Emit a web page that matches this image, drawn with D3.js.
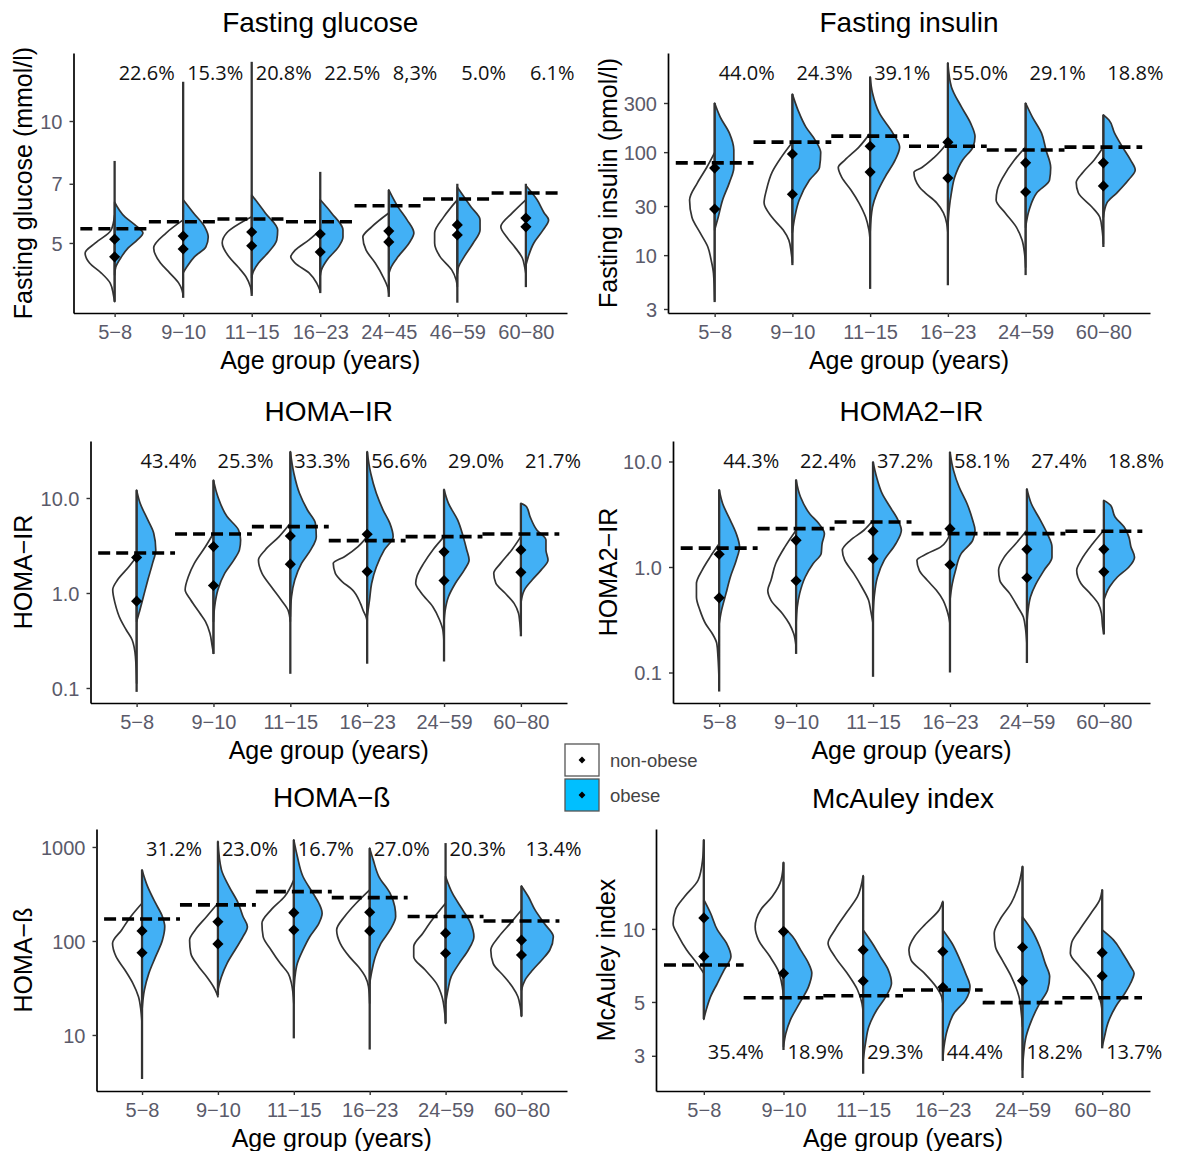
<!DOCTYPE html>
<html><head><meta charset="utf-8">
<script src="https://cdn.jsdelivr.net/npm/d3@7"></script>
<style>body{margin:0;background:#fff}</style>
</head><body><svg id="chart" width="1179" height="1151" xmlns="http://www.w3.org/2000/svg"></svg>
<script>
// ---------- categories ----------
const glucoseGroups = ["5−8","9−10","11−15","16−23","24−45","46−59","60−80"];
const ageGroups = ["5−8","9−10","11−15","16−23","24−59","60−80"];
const legendLabels = ["non-obese","obese"];

// ---------- Fasting glucose ----------
const gluLim = [3.358, 14.72];
const gluTicks = [5, 7, 10];
const gluTickLabels = ["5","7","10"];
const gluPct = ["22.6%","15.3%","20.8%","22.5%","8,3%","5.0%","6.1%"];
const gluRef = [5.42,5.64,5.73,5.64,6.18,6.42,6.64];
const gluRange = [[3.58,7.97],[3.66,12.5],[3.7,14.0],[3.76,7.49],[3.68,6.76],[3.56,7.0],[3.89,7.0]];
const gluMed = [[5.11,4.62],[5.2,4.83],[5.32,4.92],[5.26,4.75],[5.35,5.03],[5.54,5.23],[5.76,5.48]];
const gluNon = [
 [[5.86,0],[5.38,0.12],[5.0,0.65],[4.72,1.0],[4.46,0.85],[4.22,0.46],[3.98,0.15],[3.72,0.04],[3.58,0]],
 [[5.7,0],[5.29,0.58],[4.86,1.0],[4.46,0.77],[4.22,0.46],[3.98,0.15],[3.83,0.04],[3.7,0]],
 [[5.8,0],[5.29,0.85],[5.0,1.0],[4.62,0.77],[4.36,0.46],[4.12,0.19],[3.89,0.04],[3.75,0]],
 [[5.38,0],[5.09,0.38],[4.8,0.85],[4.62,1.0],[4.46,0.85],[4.22,0.38],[3.98,0.12],[3.8,0]],
 [[5.93,0],[5.48,0.58],[5.17,0.88],[4.8,0.77],[4.46,0.46],[4.12,0.19],[3.89,0.04],[3.75,0]],
 [[6.39,0],[5.8,0.46],[5.29,0.77],[5.0,0.77],[4.62,0.58],[4.29,0.19],[4.05,0.04],[3.9,0]],
 [[6.39,0],[5.93,0.46],[5.48,0.85],[5.17,0.65],[4.89,0.38],[4.59,0.12],[4.36,0.04],[4.2,0]]
];
const gluOb = [
 [[6.31,0],[5.8,0.35],[5.54,0.69],[5.29,0.96],[5.09,0.77],[4.86,0.46],[4.62,0.23],[4.36,0.04],[4.17,0]],
 [[6.39,0],[5.93,0.35],[5.48,0.73],[5.17,0.85],[4.89,0.77],[4.62,0.38],[4.36,0.12],[4.22,0]],
 [[6.57,0],[5.93,0.46],[5.38,0.88],[5.09,0.85],[4.72,0.54],[4.46,0.23],[4.22,0.04],[4.1,0]],
 [[6.39,0],[5.93,0.38],[5.38,0.77],[5.17,0.77],[4.89,0.62],[4.54,0.23],[4.29,0.04],[4.15,0]],
 [[6.76,0],[6.14,0.31],[5.7,0.62],[5.29,0.85],[5.0,0.69],[4.62,0.31],[4.36,0.08],[4.2,0]],
 [[6.86,0],[6.14,0.46],[5.7,0.77],[5.38,0.77],[5.0,0.54],[4.62,0.23],[4.36,0.04],[4.2,0]],
 [[6.93,0],[6.39,0.38],[5.93,0.62],[5.7,0.77],[5.38,0.58],[5.0,0.27],[4.62,0.08],[4.4,0]]
];

// ---------- Fasting insulin ----------
const insLim = [2.743, 917.6];
const insTicks = [3, 10, 30, 100, 300];
const insTickLabels = ["3","10","30","100","300"];
const insPct = ["44.0%","24.3%","39.1%","55.0%","29.1%","18.8%"];
const insRef = [78.7,125,143,114,105,112];
const insRange = [[3.5,300],[8.0,366],[4.7,537],[5.1,735],[6.4,300],[12,230]];
const insMed = [[70,28],[96,39],[114,64],[125,56],[78.7,41],[78.7,47]];
const insNon = [
 [[99,0],[71,0.27],[50.6,0.58],[34.3,0.85],[23.3,0.77],[16.6,0.5],[12,0.23],[9,0.12],[6.7,0.04],[3.67,0]],
 [[125,0],[89,0.38],[63.7,0.69],[42.9,0.88],[32.2,0.96],[23.3,0.69],[17.5,0.31],[14,0.12],[10.6,0.04],[8.5,0]],
 [[153,0],[112,0.38],[84,0.85],[71,1.08],[57,0.96],[42.9,0.65],[32.2,0.38],[23.3,0.15],[17.5,0.04],[14,0]],
 [[125,0],[89,0.46],[71,0.88],[63.7,1.15],[45.6,0.96],[40.3,0.77],[32.2,0.38],[25.7,0.15],[20.4,0.04],[16.6,0]],
 [[112,0],[84,0.38],[57,0.77],[42.9,0.96],[34.3,1.0],[25.7,0.69],[18.6,0.31],[14,0.12],[10.6,0.04],[7.6,0]],
 [[112,0],[84,0.31],[63.7,0.69],[50.6,0.92],[40.3,0.85],[29.2,0.38],[23.3,0.12],[17.5,0.04],[12.9,0]]
];
const insOb = [
 [[300,0],[219,0.19],[153,0.5],[105,0.65],[71,0.65],[50.6,0.5],[34.3,0.27],[23.3,0.12],[17.5,0]],
 [[366,0],[256,0.19],[175,0.46],[131,0.77],[99,0.96],[71,0.92],[53.6,0.58],[34.3,0.23],[23.3,0.08],[16.6,0]],
 [[537,0],[375,0.08],[240,0.31],[153,0.77],[112,1.0],[84,0.85],[57,0.5],[40,0.23],[29.2,0.08],[16.6,0]],
 [[735,0],[430,0.12],[275,0.46],[191,0.77],[141,0.92],[112,0.85],[84,0.5],[57,0.23],[40.3,0.12],[27.4,0.04],[18.6,0]],
 [[300,0],[219,0.23],[153,0.54],[105,0.69],[71,0.85],[53.6,0.81],[40.3,0.38],[27.4,0.12],[18.6,0]],
 [[230,0],[205,0.19],[153,0.38],[112,0.65],[84,0.92],[67,1.08],[53.6,0.85],[40.3,0.46],[32.2,0.12],[23.3,0]]
];

// ---------- HOMA-IR ----------
const irLim = [0.0695, 39.8];
const irTicks = [0.1, 1, 10];
const irTickLabels = ["0.1","1.0","10.0"];
const irPct = ["43.4%","25.3%","33.3%","56.6%","29.0%","21.7%"];
const irRef = [2.64,4.18,5.0,3.56,3.92,4.18];
const irRange = [[0.091,12.1],[0.228,15.4],[0.141,30.7],[0.18,30.7],[0.19,12.3],[0.35,8.8]];
const irMed = [[2.37,0.82],[3.08,1.2],[3.98,2.01],[4.15,1.68],[2.71,1.35],[2.84,1.65]];
const irNon = [
 [[2.41,0],[1.88,0.27],[1.37,0.65],[1.08,0.81],[0.778,0.73],[0.52,0.54],[0.408,0.35],[0.32,0.15],[0.214,0.04],[0.112,0]],
 [[4.25,0],[3.08,0.27],[2.05,0.65],[1.49,0.85],[1.08,0.96],[0.844,0.77],[0.611,0.46],[0.5,0.27],[0.377,0.12],[0.272,0.04],[0.232,0]],
 [[5.41,0],[3.92,0.38],[2.84,0.85],[2.22,1.08],[1.61,0.96],[1.17,0.65],[0.844,0.31],[0.662,0.08],[0.5,0]],
 [[3.92,0],[3.08,0.31],[2.41,0.77],[2.05,1.15],[1.61,1.08],[1.32,0.85],[1.08,0.5],[0.778,0.23],[0.636,0.12],[0.564,0.04],[0.5,0]],
 [[3.92,0],[2.84,0.38],[2.05,0.69],[1.49,0.92],[1.27,0.96],[1.0,0.77],[0.718,0.38],[0.52,0.15],[0.408,0.04],[0.295,0]],
 [[3.92,0],[2.84,0.31],[2.05,0.69],[1.61,0.92],[1.27,0.85],[1.0,0.54],[0.778,0.23],[0.611,0.08],[0.5,0.04],[0.377,0]]
];
const irOb = [
 [[12.1,0],[8.79,0.12],[5.87,0.38],[4.25,0.58],[2.84,0.65],[2.05,0.54],[1.37,0.38],[0.914,0.23],[0.611,0.08],[0.5,0]],
 [[15.4,0],[10.3,0.15],[6.37,0.46],[4.6,0.85],[3.61,0.92],[2.84,0.88],[2.22,0.69],[1.61,0.38],[1.08,0.15],[0.718,0.04],[0.5,0]],
 [[30.7,0],[18.2,0.12],[11.2,0.31],[7.47,0.58],[5.41,0.85],[3.92,0.88],[2.84,0.69],[2.05,0.38],[1.37,0.15],[0.914,0.04],[0.564,0]],
 [[30.7,0],[18.2,0.12],[11.2,0.31],[7.47,0.54],[5.41,0.77],[3.92,0.88],[2.84,0.58],[1.88,0.31],[1.26,0.15],[0.844,0.08],[0.564,0]],
 [[12.3,0],[8.79,0.15],[5.87,0.46],[3.92,0.65],[2.84,0.77],[2.22,0.85],[1.75,0.69],[1.26,0.38],[0.914,0.15],[0.662,0.04],[0.5,0]],
 [[8.8,0],[8.1,0.19],[6.37,0.31],[4.6,0.54],[3.61,0.85],[2.84,0.85],[2.22,0.92],[1.75,0.69],[1.37,0.38],[1.08,0.12],[0.778,0]]
];

// ---------- HOMA2-IR ----------
const ir2Lim = [0.0514, 15.64];
const ir2Ticks = [0.1, 1, 10];
const ir2TickLabels = ["0.1","1.0","10.0"];
const ir2Pct = ["44.3%","22.4%","37.2%","58.1%","27.4%","18.8%"];
const ir2Ref = [1.51,2.31,2.67,2.07,2.07,2.18];
const ir2Range = [[0.066,5.4],[0.15,6.7],[0.091,9.9],[0.1,12.3],[0.123,5.5],[0.23,4.28]];
const ir2Med = [[1.32,0.51],[1.79,0.74],[2.18,1.2],[2.31,1.05],[1.47,0.79],[1.47,0.9]];
const ir2Non = [
 [[1.66,0],[1.24,0.31],[0.93,0.58],[0.695,0.77],[0.52,0.77],[0.388,0.65],[0.29,0.46],[0.233,0.23],[0.188,0.08],[0.14,0.04],[0.078,0]],
 [[2.23,0],[1.55,0.38],[1.08,0.69],[0.748,0.85],[0.601,0.96],[0.483,0.85],[0.361,0.46],[0.29,0.23],[0.233,0.08],[0.175,0]],
 [[2.77,0],[2.23,0.31],[1.79,0.77],[1.44,1.04],[1.16,0.96],[0.865,0.65],[0.646,0.38],[0.483,0.15],[0.388,0.08],[0.29,0]],
 [[2.07,0],[1.55,0.31],[1.34,0.77],[1.16,1.12],[0.93,1.04],[0.748,0.77],[0.601,0.46],[0.483,0.23],[0.403,0.12],[0.336,0.04],[0.29,0]],
 [[2.23,0],[1.66,0.38],[1.24,0.77],[0.93,0.96],[0.748,0.92],[0.559,0.58],[0.418,0.31],[0.336,0.12],[0.251,0.04],[0.188,0]],
 [[2.23,0],[1.66,0.38],[1.16,0.77],[0.93,0.92],[0.695,0.77],[0.559,0.46],[0.449,0.19],[0.361,0.08],[0.27,0.04],[0.233,0]]
];
const ir2Ob = [
 [[5.4,0],[3.98,0.12],[2.77,0.38],[2.07,0.58],[1.55,0.69],[1.16,0.58],[0.804,0.38],[0.559,0.23],[0.388,0.08],[0.29,0]],
 [[6.7,0],[4.61,0.15],[3.2,0.46],[2.58,0.77],[2.07,0.96],[1.66,0.88],[1.34,0.85],[1.08,0.58],[0.804,0.31],[0.559,0.12],[0.418,0.04],[0.29,0]],
 [[9.9,0],[7.13,0.12],[4.96,0.31],[3.7,0.58],[2.77,0.85],[2.23,0.96],[1.66,0.77],[1.16,0.38],[0.804,0.15],[0.52,0.04],[0.336,0]],
 [[12.3,0],[8.24,0.12],[5.73,0.31],[3.98,0.58],[2.77,0.77],[2.23,0.85],[1.79,0.77],[1.34,0.38],[0.93,0.19],[0.695,0.08],[0.483,0]],
 [[5.5,0],[3.98,0.15],[2.77,0.46],[2.07,0.69],[1.55,0.85],[1.24,0.85],[0.93,0.58],[0.695,0.31],[0.52,0.12],[0.388,0.04],[0.29,0]],
 [[4.28,0],[3.84,0.23],[2.98,0.38],[2.39,0.69],[1.92,0.85],[1.55,0.92],[1.24,1.04],[1.0,0.85],[0.804,0.46],[0.646,0.19],[0.483,0]]
];

// ---------- HOMA-ß ----------
const betaLim = [2.535, 1553];
const betaTicks = [10, 100, 1000];
const betaTickLabels = ["10","100","1000"];
const betaPct = ["31.2%","23.0%","16.7%","27.0%","20.3%","13.4%"];
const betaRef = [171,242,335,289,182,163];
const betaRange = [[3.4,571],[26.6,1145],[9.2,1190],[7.0,972],[13.3,1100],[15.8,385]];
const betaMed = [[128,75],[160,93],[200,131],[202,128],[121,74],[102,71]];
const betaNon = [
 [[252,0],[182,0.38],[131,0.69],[94.4,1.0],[68.1,0.88],[49.1,0.58],[35.4,0.31],[25.5,0.12],[18.4,0.04],[13.3,0]],
 [[252,0],[182,0.38],[131,0.77],[102,0.96],[74,0.92],[53.2,0.65],[41.7,0.38],[32.6,0.15],[27.7,0.04],[25.5,0]],
 [[447,0],[297,0.31],[214,0.77],[154,1.08],[111,1.04],[80.2,0.77],[57.8,0.46],[45.2,0.19],[35.4,0.08],[21.7,0]],
 [[350,0],[252,0.46],[182,0.85],[131,1.12],[94.4,1.0],[68.1,0.69],[53.2,0.38],[41.7,0.15],[32.6,0.04],[21.7,0]],
 [[252,0],[167,0.46],[121,0.77],[87,1.08],[68.1,1.08],[49.1,0.69],[35.4,0.31],[25.5,0.12],[18.4,0.04],[13.3,0]],
 [[214,0],[154,0.38],[111,0.77],[80.2,1.04],[57.8,0.96],[41.7,0.58],[32.6,0.31],[25.5,0.12],[20,0.04],[15.8,0]]
];
const betaOb = [
 [[571,0],[379,0.19],[252,0.46],[182,0.69],[142,0.77],[102,0.69],[68.1,0.46],[45.2,0.23],[30.1,0.08],[18.4,0]],
 [[1145,0],[571,0.12],[379,0.38],[252,0.69],[182,0.85],[142,1.0],[111,0.85],[80.2,0.58],[57.8,0.31],[41.7,0.12],[30.1,0]],
 [[1190,0],[792,0.12],[485,0.31],[322,0.65],[252,0.85],[197,0.96],[154,0.85],[111,0.54],[80.2,0.31],[57.8,0.12],[41.7,0.04],[25.5,0]],
 [[972,0],[729,0.12],[485,0.31],[322,0.69],[232,0.85],[182,0.88],[131,0.69],[94.4,0.38],[68.1,0.19],[49.1,0.08],[35.4,0]],
 [[485,0],[322,0.23],[214,0.58],[154,0.85],[111,0.96],[80.2,0.77],[57.8,0.46],[41.7,0.19],[30.1,0.08],[21.7,0]],
 [[385,0],[297,0.23],[214,0.46],[154,0.77],[111,1.08],[80.2,0.96],[62.8,0.69],[49.1,0.38],[38.4,0.12],[30.1,0]]
];

// ---------- McAuley index ----------
const mcLim = [2.148, 25.8];
const mcTicks = [3, 5, 10];
const mcTickLabels = ["3","5","10"];
const mcPct = ["35.4%","18.9%","29.3%","44.4%","18.2%","13.7%"];
const mcRef = [7.1,5.2,5.3,5.6,4.97,5.2];
const mcRange = [[4.25,23.3],[3.17,18.8],[2.53,16.5],[2.86,12.9],[2.43,18.1],[3.22,14.5]];
const mcMed = [[7.7,11.1],[6.56,9.75],[6.1,8.19],[5.75,8.07],[6.12,8.4],[6.4,7.98]];
const mcNon = [
 [[23.3,0],[19.3,0.04],[15.9,0.19],[13.6,0.65],[12.0,0.96],[10.5,1.04],[9.3,0.85],[8.19,0.58],[7.21,0.23],[6.56,0]],
 [[18.8,0],[15.9,0.08],[13.6,0.38],[12.0,0.77],[10.2,0.96],[9.01,0.85],[7.69,0.46],[6.78,0.19],[5.78,0.04],[5.26,0]],
 [[16.6,0],[13.6,0.19],[11.6,0.58],[9.9,0.96],[8.73,1.19],[7.69,0.96],[6.56,0.54],[5.6,0.19],[4.93,0.04],[4.49,0]],
 [[13.0,0],[12.0,0.12],[10.5,0.58],[9.3,0.96],[8.19,1.15],[7.45,1.08],[6.56,0.62],[5.78,0.23],[5.26,0.04],[4.93,0]],
 [[18.1,0],[15.4,0.12],[12.8,0.38],[10.9,0.77],[9.6,0.96],[8.46,0.92],[7.45,0.69],[6.36,0.38],[5.26,0.12],[4.49,0.04],[3.95,0]],
 [[14.5,0],[13.2,0.08],[11.6,0.38],[9.9,0.77],[8.73,1.04],[7.94,1.08],[7.0,0.77],[6.16,0.38],[5.43,0.15],[4.93,0.04],[4.49,0]]
];
const mcOb = [
 [[13.2,0],[11.6,0.23],[9.9,0.46],[8.73,0.77],[7.69,0.92],[6.78,0.69],[5.97,0.46],[5.26,0.23],[4.63,0.08],[4.24,0]],
 [[10.2,0],[9.3,0.31],[8.19,0.58],[7.21,0.85],[6.56,0.96],[5.78,0.85],[4.93,0.54],[4.21,0.23],[3.71,0.08],[3.27,0]],
 [[9.9,0],[8.73,0.31],[7.69,0.58],[6.78,0.85],[5.97,0.96],[5.26,0.77],[4.63,0.46],[3.95,0.19],[3.38,0.08],[2.88,0]],
 [[9.9,0],[8.73,0.31],[7.45,0.58],[6.56,0.77],[5.78,0.92],[5.09,0.77],[4.49,0.38],[3.83,0.15],[3.27,0.04],[2.88,0]],
 [[11.2,0],[9.9,0.31],[8.46,0.58],[7.21,0.77],[6.36,0.92],[5.6,0.85],[4.93,0.58],[4.21,0.31],[3.6,0.12],[3.07,0.04],[2.62,0]],
 [[9.9,0],[9.01,0.38],[7.94,0.69],[7.0,0.96],[6.56,1.08],[5.97,0.96],[5.43,0.77],[4.79,0.46],[4.08,0.19],[3.6,0.08],[3.27,0]]
];

// ---------- panel definitions ----------
const panels = [
 {title:"Fasting glucose", yTitle:"Fasting glucose (mmol/l)", groups:glucoseGroups, lim:gluLim, ticks:gluTicks, tickLabels:gluTickLabels, pct:gluPct, ref:gluRef, range:gluRange, med:gluMed, non:gluNon, ob:gluOb},
 {title:"Fasting insulin", yTitle:"Fasting insulin (pmol/l)", groups:ageGroups, lim:insLim, ticks:insTicks, tickLabels:insTickLabels, pct:insPct, ref:insRef, range:insRange, med:insMed, non:insNon, ob:insOb},
 {title:"HOMA−IR", yTitle:"HOMA−IR", groups:ageGroups, lim:irLim, ticks:irTicks, tickLabels:irTickLabels, pct:irPct, ref:irRef, range:irRange, med:irMed, non:irNon, ob:irOb},
 {title:"HOMA2−IR", yTitle:"HOMA2−IR", groups:ageGroups, lim:ir2Lim, ticks:ir2Ticks, tickLabels:ir2TickLabels, pct:ir2Pct, ref:ir2Ref, range:ir2Range, med:ir2Med, non:ir2Non, ob:ir2Ob},
 {title:"HOMA−ß", yTitle:"HOMA−ß", groups:ageGroups, lim:betaLim, ticks:betaTicks, tickLabels:betaTickLabels, pct:betaPct, ref:betaRef, range:betaRange, med:betaMed, non:betaNon, ob:betaOb},
 {title:"McAuley index", yTitle:"McAuley index", groups:ageGroups, lim:mcLim, ticks:mcTicks, tickLabels:mcTickLabels, pct:mcPct, ref:mcRef, range:mcRange, med:mcMed, non:mcNon, ob:mcOb}
];

// layout (pixels)
const layouts = [
 {x0:73.5, x1:567, top:53, bottom:313, titleY:32, yTitleX:23, pctBottom:false},
 {x0:668, x1:1150, top:53, bottom:313, titleY:32, yTitleX:608, pctBottom:false},
 {x0:90.5, x1:567, top:441, bottom:703, titleY:421, yTitleX:23, pctBottom:false},
 {x0:673, x1:1150, top:441, bottom:703, titleY:421, yTitleX:608, pctBottom:false},
 {x0:96.5, x1:567, top:829, bottom:1091, titleY:807, yTitleX:23, pctBottom:false},
 {x0:656, x1:1150, top:829, bottom:1091, titleY:808, yTitleX:606, pctBottom:true}
];

const BLUE = "#42b0f5";
const LEGEND_BLUE = "#00bfff";
const OUTLINE = "#333333";
const TICK_COLOR = "#5a5a6a";
const FONT = "'Liberation Sans', Arial, sans-serif";
const PCT_FONT = "'Open Sans', 'Noto Sans', sans-serif";

const svg = d3.select("#chart");
svg.append("rect").attr("width",1179).attr("height",1151).attr("fill","#fff");

const diamond = d3.symbol().type(d3.symbolSquare).size(62);

panels.forEach((p, i) => {
  const L = layouts[i];
  const g = svg.append("g");
  const x = d3.scalePoint().domain(p.groups).range([L.x0, L.x1]).padding(0.6);
  const y = d3.scaleLog().domain(p.lim).range([L.bottom, L.top]);
  const step = x.step();
  const w = d3.scaleLinear().domain([0, 1]).range([0, 29.5]);

  p.groups.forEach((grp, j) => {
    const cx = x(grp);
    const areaL = d3.area().curve(d3.curveMonotoneY)
      .y(d => y(d[0])).x0(cx).x1(d => cx - w(d[1]));
    const areaR = d3.area().curve(d3.curveMonotoneY)
      .y(d => y(d[0])).x0(cx).x1(d => cx + w(d[1]));
    g.append("path").attr("d", areaL(p.non[j]))
      .attr("fill", "#fff").attr("stroke", OUTLINE).attr("stroke-width", 1.7).attr("stroke-linejoin","round");
    g.append("path").attr("d", areaR(p.ob[j]))
      .attr("fill", BLUE).attr("stroke", OUTLINE).attr("stroke-width", 1.7).attr("stroke-linejoin","round");
    g.append("line")
      .attr("x1", cx).attr("x2", cx)
      .attr("y1", y(p.range[j][0])).attr("y2", y(p.range[j][1]))
      .attr("stroke", OUTLINE).attr("stroke-width", 2.3);
  });

  // dashed reference lines
  g.selectAll(".ref").data(p.ref).join("line")
    .attr("x1", (d, j) => x(p.groups[j]) - step / 2)
    .attr("x2", (d, j) => x(p.groups[j]) + step / 2)
    .attr("y1", d => y(d)).attr("y2", d => y(d))
    .attr("stroke", "#000").attr("stroke-width", 3.6)
    .attr("stroke-dasharray", "12,6");

  // median diamonds
  p.med.forEach((m, j) => {
    m.forEach(v => {
      g.append("path").attr("d", diamond())
        .attr("transform", `translate(${x(p.groups[j])},${y(v)}) rotate(45)`)
        .attr("fill", "#000");
    });
  });

  // percentage labels
  g.selectAll(".pct").data(p.pct).join("text")
    .attr("x", (d, j) => x(p.groups[j]) + 4)
    .attr("y", L.pctBottom ? 1059 : L.top + 27)
    .attr("font-family", PCT_FONT).attr("font-size", 20).attr("fill", "#111")
    .text(d => d);

  // axes
  const ax = g.append("g").attr("transform", `translate(0,${L.bottom})`)
    .call(d3.axisBottom(x).tickSize(4).tickSizeOuter(0).tickPadding(8));
  const ay = g.append("g").attr("transform", `translate(${L.x0},0)`)
    .call(d3.axisLeft(y).tickValues(p.ticks).tickFormat((d, k) => p.tickLabels[k]).tickSize(4).tickSizeOuter(0).tickPadding(7));
  [ax, ay].forEach(a => {
    a.select(".domain").attr("stroke", "#000").attr("stroke-width", 1.7);
    a.selectAll(".tick line").attr("stroke", OUTLINE).attr("stroke-width", 1.4);
    a.selectAll(".tick text").attr("font-family", FONT).attr("font-size", 20).attr("fill", TICK_COLOR);
  });
  ax.selectAll(".tick text").attr("dy", "0.72em");
  ay.selectAll(".tick text").attr("dy", "0.36em");

  // titles
  const cxMid = (L.x0 + L.x1) / 2;
  g.append("text").attr("x", cxMid).attr("y", L.titleY)
    .attr("text-anchor", "middle").attr("font-family", FONT).attr("font-size", 28).attr("fill", "#000")
    .text(p.title);
  g.append("text").attr("x", cxMid).attr("y", L.bottom + 56)
    .attr("text-anchor", "middle").attr("font-family", FONT).attr("font-size", 25).attr("fill", "#000")
    .text("Age group (years)");
  g.append("text")
    .attr("transform", `translate(${L.yTitleX},${(L.top + L.bottom) / 2}) rotate(-90)`)
    .attr("text-anchor", "middle").attr("dy", "0.36em")
    .attr("font-family", FONT).attr("font-size", 25).attr("fill", "#000")
    .text(p.yTitle);
});

// legend
const leg = svg.append("g");
const legFills = ["#fff", LEGEND_BLUE];
legendLabels.forEach((lab, k) => {
  const y0 = 744 + k * 35;
  leg.append("rect").attr("x", 565).attr("y", y0).attr("width", 34).attr("height", 32)
    .attr("fill", legFills[k]).attr("stroke", "#555").attr("stroke-width", 1.3);
  leg.append("path").attr("d", d3.symbol().type(d3.symbolSquare).size(24)())
    .attr("transform", `translate(582,${y0 + 16}) rotate(45)`).attr("fill", "#000");
  leg.append("text").attr("x", 610).attr("y", y0 + 23)
    .attr("font-family", FONT).attr("font-size", 18.5).attr("fill", "#444")
    .text(lab);
});
</script>
</body></html>
